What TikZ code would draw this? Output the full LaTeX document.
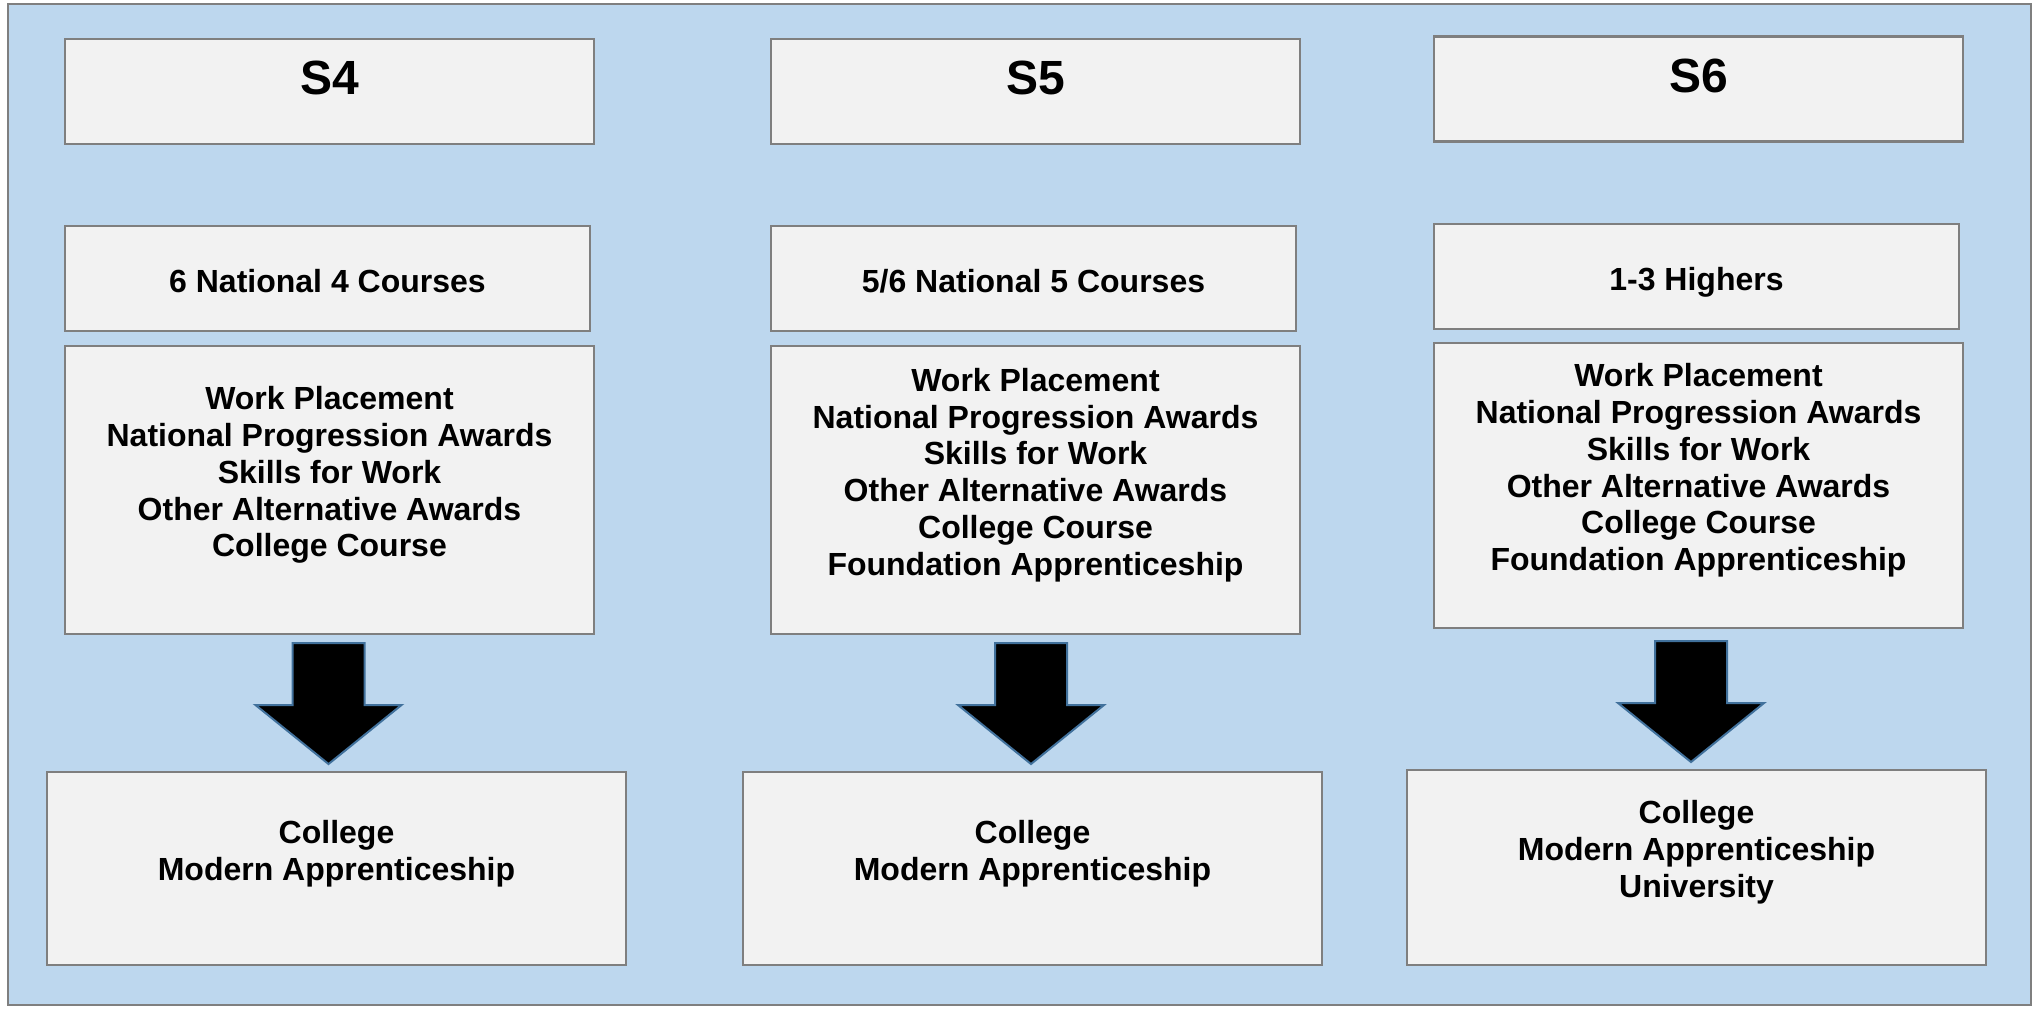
\documentclass[tikz,border=0pt]{standalone}
\usepackage{fontspec}
\setmainfont{Liberation Sans}
\usetikzlibrary{positioning}

\definecolor{bgblue}{HTML}{BDD7EE}
\definecolor{boxfill}{HTML}{F2F2F2}
\definecolor{boxline}{HTML}{7F7F7F}
\definecolor{arrowline}{HTML}{41719C}

\tikzset{
    box/.style={draw=boxline, fill=boxfill, line width=1.3pt, align=center,
        inner sep=0pt, font=\fontsize{16}{18.4}\selectfont\bfseries},
    year/.style={box, minimum width=264.5pt, minimum height=52.5pt, text depth=13.4pt,
        font=\fontsize{24}{27.6}\selectfont\bfseries},
    courses/.style={box, minimum width=262.5pt, minimum height=52.5pt,
        text height=14pt, text depth=0pt},
    options/.style={box, minimum width=264.5pt, minimum height=144pt},
    leavers/.style={box, minimum width=289.5pt, minimum height=96.5pt},
    blockarrow/.style={fill=black, draw=arrowline, line width=1pt, line join=miter}
}

\begin{document}
\begin{tikzpicture}[x=0.5pt, y=-0.5pt]
        \useasboundingbox (0,0) rectangle (2038,1008);
        % Draw the background
        \draw[fill=bgblue, draw=boxline, line width=1pt] (8,4) rectangle (2031,1005);

        % Draw the year headers
        \node[year] (s4) at (329.5,91.5) {S4};
        \node[year] (s5) at (1035.5,91.5) {S5};
        \node[year] (s6) at (1698.5,89) {S6};

        % Draw the courses
        \node[courses] (n4) at (327.5,278.5) {6 National 4 Courses};
        \node[courses] (n5) at (1033.5,278.5) {5/6 National 5 Courses};
        \node[courses] (n6) at (1696.5,276.5) {1-3 Highers};

        % Draw the other options
        \node[options] (alt4) at (329.5,490) {Work Placement\\National Progression Awards\\Skills for Work\\Other Alternative Awards\\College Course\\~};
        \node[options] (alt5) at (1035.5,490) {Work Placement\\National Progression Awards\\Skills for Work\\Other Alternative Awards\\College Course\\Foundation Apprenticeship\\~};
        \node[options, minimum height=142.5pt] (alt6) at (1698.5,485.5) {Work Placement\\National Progression Awards\\Skills for Work\\Other Alternative Awards\\College Course\\Foundation Apprenticeship\\~};

        % Draw the destinations
        \node[leavers] (next4) at (336.5,868.5) {College\\Modern Apprenticeship\\~};
        \node[leavers] (next5) at (1032.5,868.5) {College\\Modern Apprenticeship\\~};
        \node[leavers, minimum height=97.5pt] (next6) at (1696.5,867.5) {College\\Modern Apprenticeship\\University\\~};

        % Draw the arrows
        \coordinate (a4) at (328.5,643);
        \coordinate (a5) at (1031,643);
        \coordinate (a6) at (1691,641);
        \foreach \a in {a4,a5,a6}
            \draw[blockarrow] (\a) ++(-36,0) -- ++(0,62) -- ++(-37,0) -- ++(73,59)
                -- ++(73,-59) -- ++(-37,0) -- ++(0,-62) -- cycle;
\end{tikzpicture}
\end{document}
